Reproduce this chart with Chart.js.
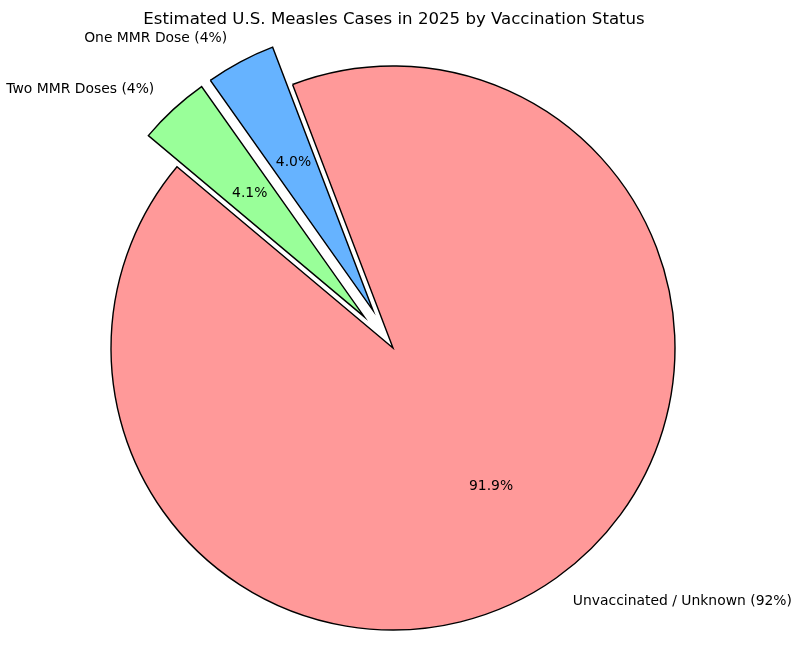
<!DOCTYPE html>
<html lang="en">
  <head>
    <title>Measles cases by vaccination status</title>
    <meta charset="UTF-8" />
    <style>
      html, body { margin: 0; padding: 0; background: #fff; }
      .wrap { width: 802px; height: 658px; position: relative; }
    </style>
  </head>
  <body>
    <div class="wrap">
      <canvas id="myPieChart"></canvas>
    </div>
    <script src="https://cdn.jsdelivr.net/npm/chart.js@4.4.0/dist/chart.umd.min.js"></script>
    <script>
      // data, in the order the slices are laid out counter-clockwise from 140 deg
      var categories = ["Unvaccinated / Unknown (92%)", "One MMR Dose (4%)", "Two MMR Doses (4%)"];
      var values = [92, 4, 4.1];
      var titleText = "Estimated U.S. Measles Cases in 2025 by Vaccination Status";

      var colors = ["#ff9999", "#66b3ff", "#99ff99"];
      var explode = [0, 0.15, 0.15];
      var FONT = "'DejaVu Sans', sans-serif";

      // Chart.js goes clockwise, so reverse the order
      var labelsCW = categories.slice().reverse();
      var valuesCW = values.slice().reverse();
      var colorsCW = colors.slice().reverse();
      var explodeCW = explode.slice().reverse();
      var total = values.reduce(function (a, b) { return a + b; }, 0);

      // move exploded slices out along their middle angle (like matplotlib explode)
      var explodePlugin = {
        id: "explode",
        afterDatasetUpdate: function (chart, args) {
          var meta = args.meta;
          meta.data.forEach(function (arc, i) {
            var f = explodeCW[i];
            if (!f) return;
            var mid = (arc.startAngle + arc.endAngle) / 2;
            arc.x += Math.cos(mid) * f * arc.outerRadius;
            arc.y += Math.sin(mid) * f * arc.outerRadius;
          });
        },
      };

      var textPlugin = {
        id: "pieText",
        afterDraw: function (chart) {
          var ctx = chart.ctx;
          var meta = chart.getDatasetMeta(0);
          ctx.save();
          ctx.fillStyle = "#000";
          // title
          ctx.font = "16.6px " + FONT;
          ctx.textAlign = "center";
          ctx.textBaseline = "alphabetic";
          ctx.fillText(titleText, 394, 24);

          ctx.font = "13.9px " + FONT;
          ctx.textBaseline = "middle";
          meta.data.forEach(function (arc, i) {
            var mid = (arc.startAngle + arc.endAngle) / 2;
            var r = arc.outerRadius;
            var c = Math.cos(mid), s = Math.sin(mid);
            // outer label
            ctx.textAlign = c > 0 ? "left" : "right";
            ctx.fillText(chart.data.labels[i], arc.x + c * r * 1.1, arc.y + s * r * 1.1 + 1);
            // percentage
            ctx.textAlign = "center";
            var pct = (valuesCW[i] / total * 100).toFixed(1) + "%";
            ctx.fillText(pct, arc.x + c * r * 0.6, arc.y + s * r * 0.6 + 1);
          });
          ctx.restore();
        },
      };

      var ctx = document.getElementById("myPieChart");
      var myPieChart = new Chart(ctx, {
        type: "pie",
        data: {
          labels: labelsCW,
          datasets: [
            {
              data: valuesCW,
              backgroundColor: colorsCW,
              borderColor: "#000",
              borderWidth: 1.4,
              borderJoinStyle: "miter",
              hoverOffset: 0,
              clip: false,
            },
          ],
        },
        options: {
          responsive: true,
          maintainAspectRatio: false,
          animation: false,
          rotation: -50,
          radius: 282,
          layout: { padding: { left: 0, right: 16, top: 38, bottom: 0 } },
          events: [],
          plugins: {
            legend: { display: false },
            tooltip: { enabled: false },
            title: { display: false },
          },
        },
        plugins: [explodePlugin, textPlugin],
      });
    </script>
  </body>
</html>
